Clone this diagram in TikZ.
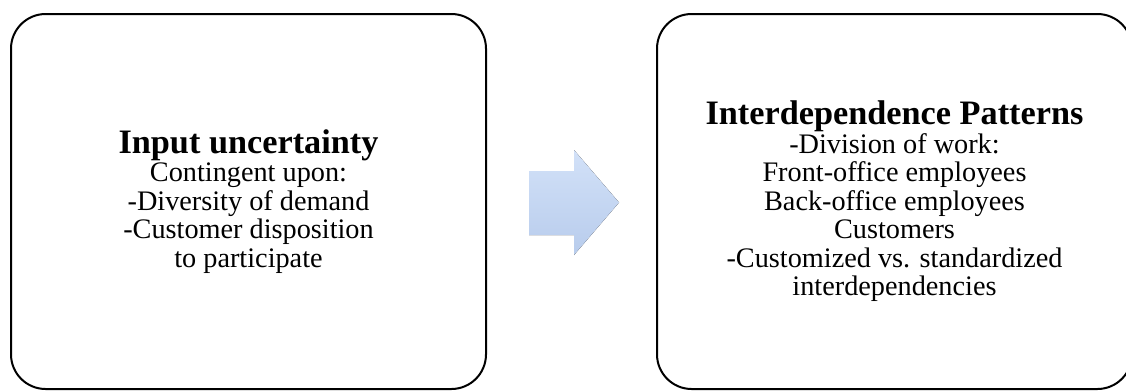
\documentclass[tikz,border=0pt]{standalone}
\usepackage{fontspec}
\setmainfont{Liberation Serif}
\definecolor{arrowtop}{RGB}{210,225,248}
\definecolor{arrowbot}{RGB}{184,204,236}
\newcommand\paneltitle[1]{{\fontsize{25.7}{21.3}\selectfont\bfseries #1}}
\begin{document}
\begin{tikzpicture}[x=0.75pt,y=-0.75pt,
  panel/.style={draw,line width=1.5pt,rounded corners=26pt,minimum width=356.25pt,minimum height=281.25pt,
    inner sep=0pt,align=center,font=\fontsize{21.2}{21.4}\selectfont}]
  \useasboundingbox (0,0) rectangle (1126,390);
  \node[panel] (input) at (248.5,201.5) {\paneltitle{Input uncertainty}\\Contingent upon:\\-Diversity of demand\\-Customer disposition\\to participate};
  \node[panel] (patterns) at (894.5,201.5) {\paneltitle{Interdependence Patterns}\\-Division of work:\\Front-office employees\\Back-office employees\\Customers\\-Customized vs. standardized\\interdependencies};
  % block arrow between the panels
  \fill[top color=arrowtop,bottom color=arrowbot] (529,171)--(574,171)--(574,150)--(619,202.5)--(574,255)--(574,235)--(529,235)--cycle;
\end{tikzpicture}
\end{document}
